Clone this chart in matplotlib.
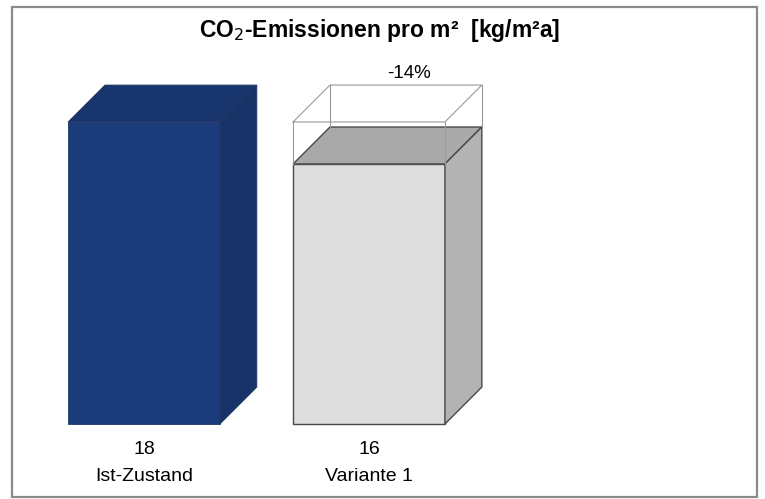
import numpy as np
import matplotlib.pyplot as plt
from matplotlib.patches import Polygon, Rectangle

plt.rcParams['font.family'] = ['Liberation Sans', 'DejaVu Sans']

# data
categories = ['Ist-Zustand', 'Variante 1']
values     = [18.0, 15.5]          # kg/m²a
ref_value  = values[0]             # reference height drawn as wireframe

# colours (front, top, side)
front_cols = ['#1b3b7b', '#dedede']
top_cols   = ['#19356d', '#a9a9a9']
side_cols  = ['#183368', '#b3b3b3']
edge_cols  = ['#203866', '#4a4a4a']

width = 0.675     # front width in category units
ddx   = 0.164     # depth offset x
ddy   = 2.2       # depth offset y

fig = plt.figure(figsize=(7.65, 4.99), dpi=100)
ax = fig.add_axes([0, 0, 1, 1])
ax.set_xlim(-0.64, 2.76)
ax.set_ylim(-4.47, 25.27)
ax.axis('off')

# frame
fig.patches.append(Rectangle((12/765, 2/499), 745/765, 490/499, transform=fig.transFigure,
                             fill=False, edgecolor='#8a8a8a', linewidth=1.6))


def box(x0, h, fc, tc, sc, ec, lw):
    x1 = x0 + width
    front = [(x0, 0), (x1, 0), (x1, h), (x0, h)]
    top = [(x0, h), (x1, h), (x1 + ddx, h + ddy), (x0 + ddx, h + ddy)]
    side = [(x1, 0), (x1 + ddx, ddy), (x1 + ddx, h + ddy), (x1, h)]
    for pts, c in [(front, fc), (top, tc), (side, sc)]:
        ax.add_patch(Polygon(pts, closed=True, facecolor=c, edgecolor=ec, linewidth=lw))


for i, v in enumerate(values):
    x0 = i - width / 2
    box(x0, v, front_cols[i], top_cols[i], side_cols[i], edge_cols[i], 1.0 if i else 0.6)
    ax.text(i, -1.5, f'{round(v)}', ha='center', va='center', fontsize=14)
    ax.text(i, -3.1, categories[i], ha='center', va='center', fontsize=14)

# wireframe of reference height over second bar
x0 = 1 - width / 2
x1 = x0 + width
v = values[1]
wc = '#9a9a9a'
ax.plot([x0, x1, x1 + ddx, x0 + ddx, x0], [ref_value, ref_value, ref_value + ddy, ref_value + ddy, ref_value],
        color=wc, lw=0.8)
for xx, yb in [(x0, v), (x1, v), (x1 + ddx, v + ddy), (x0 + ddx, v + ddy)]:
    ax.plot([xx, xx], [yb, ref_value + (ddy if yb > v else 0)], color=wc, lw=0.8)

change = (values[1] - values[0]) / values[0] * 100
ax.text(1 + 0.18, ref_value + ddy + 0.7, f'{change:.0f}%', ha='center', va='center', fontsize=13.5)

fig.text(380/765, 1 - 31/499, 'CO$_2$-Emissionen pro m²  [kg/m²a]', ha='center', va='center',
         fontsize=16.5, fontweight='bold')

fig.savefig('out.png', dpi=100)
